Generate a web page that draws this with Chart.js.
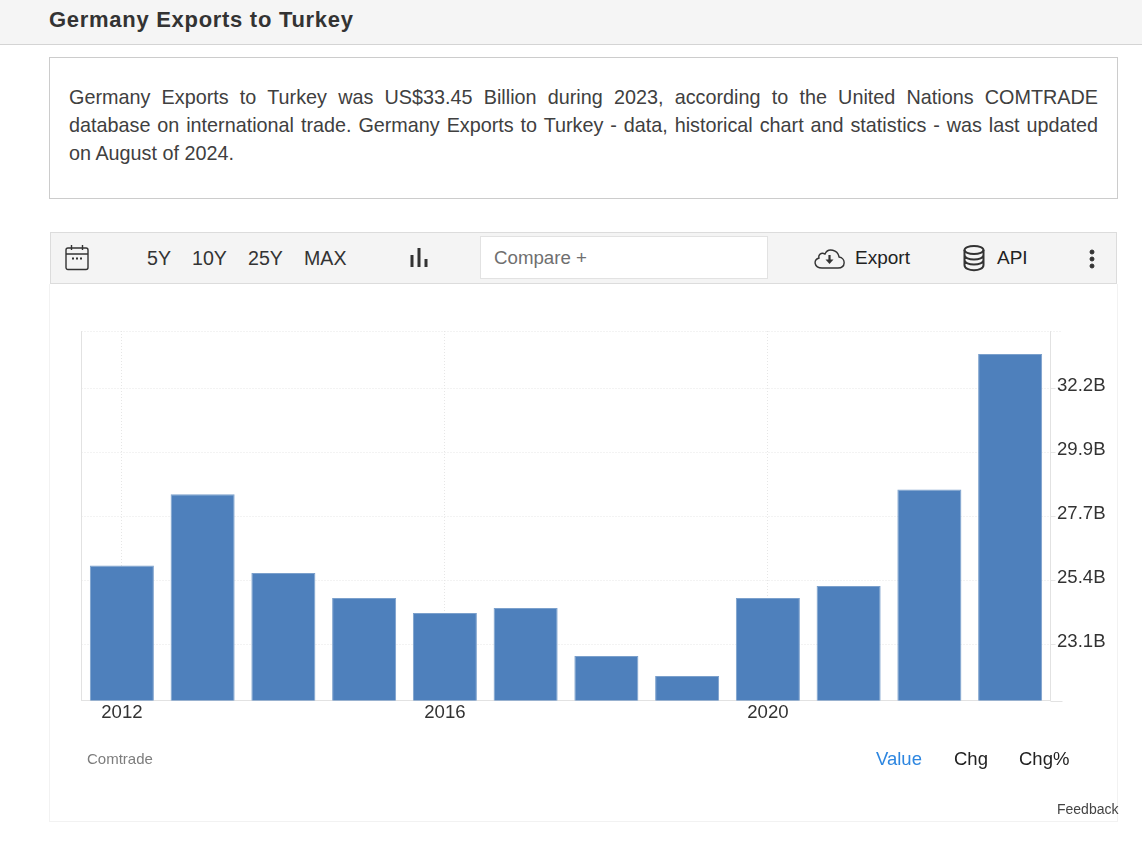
<!DOCTYPE html>
<html><head><meta charset="utf-8">
<script src="https://cdn.jsdelivr.net/npm/chart.js@4"></script>
<style>
*{box-sizing:border-box}
html,body{margin:0;padding:0;background:#fff;width:1142px;height:846px;overflow:hidden;font-family:"Liberation Sans",Arial,sans-serif;color:#333}
.abs{position:absolute;white-space:nowrap}
#head{position:absolute;left:0;top:0;width:1142px;height:45px;background:#f5f5f5;border-bottom:1px solid #d4d4d4}
#title{left:49px;top:7px;font-size:22px;font-weight:bold;line-height:26px;letter-spacing:.71px;color:#333}
#desc{position:absolute;left:49px;top:57px;width:1069px;height:142px;border:1px solid #ccc;padding:25px 19px 0 19px;font-size:19.8px;line-height:28px;color:#404040}
#desc div{white-space:normal;text-align:justify;text-align-last:justify}
#desc div:last-child{text-align-last:left}
#frame{position:absolute;left:49px;top:284px;width:1069px;height:538px;border:1px solid #f2f2f2;border-top:none}
#bar{position:absolute;left:50px;top:232px;width:1067px;height:52px;background:#f4f4f4;border:1px solid #dcdcdc}
#cmp{position:absolute;left:480px;top:236px;width:288px;height:43px;background:#fff;border:1px solid #e2e2e2;font-size:18.7px;line-height:42px;padding-left:13px;color:#6f6f6f}
.tb{font-size:19.6px;line-height:22px;color:#333;top:247px}
svg{position:absolute;fill:none;stroke:#333}
#wrap{position:absolute;left:50px;top:284px;width:1067px;height:538px}
</style></head><body>
<div id="head"></div><div class="abs" id="title">Germany Exports to Turkey</div>
<div id="desc"><div>Germany Exports to Turkey was US$33.45 Billion during 2023, according to the United Nations COMTRADE</div><div>database on international trade. Germany Exports to Turkey - data, historical chart and statistics - was last updated</div><div>on August of 2024.</div></div>
<div id="frame"></div>
<div id="wrap"><canvas id="c"></canvas></div>
<div id="bar"></div>
<svg style="left:65px;top:244px" width="25" height="28" viewBox="0 0 25 28" stroke-width="1.4"><rect x="1" y="4" width="22" height="21.5" rx="2"/><path d="M1 10H23M6.5 1V6M17.5 1V6"/><path d="M7 14.500h2M11 14.500h2M15 14.500h2" stroke-width="2"/></svg>
<div class="abs tb" style="left:147px">5Y</div>
<div class="abs tb" style="left:192px">10Y</div>
<div class="abs tb" style="left:248px">25Y</div>
<div class="abs tb" style="left:304px">MAX</div>
<svg style="left:409px;top:247px" width="20" height="21" viewBox="0 0 20 21" stroke-width="3"><path d="M3 8V20M10 1V20M17 12V20"/></svg>
<div id="cmp">Compare +</div>
<svg style="left:813px;top:245px" width="33" height="26" viewBox="0 0 33 26" stroke-width="1.4"><path d="M9 23H25C33 23 33 13 26 12C25 5 15 2 12 9C8 7 5 10 6 13C0 15 1 23 9 23Z"/><path d="M16.500 10V15" stroke-width="2.200"/><path d="M12.500 14.500H20.500L16.500 19Z" fill="#333" stroke="none"/></svg>
<div class="abs tb" style="left:855px;color:#222;font-size:19px">Export</div>
<svg style="left:962px;top:244px" width="24" height="28" viewBox="0 0 24 28" stroke-width="2"><ellipse cx="12" cy="6" rx="9.500" ry="4"/><path d="M2.500 6V21C2.500 28 21.500 28 21.500 21V6M2.500 11C2.500 17 21.500 17 21.500 11M2.500 16C2.500 22 21.500 22 21.500 16"/></svg>
<div class="abs tb" style="left:997px;color:#222;font-size:19px">API</div>
<svg style="left:1088px;top:249px" width="8" height="20" viewBox="0 0 8 20" stroke="none"><circle cx="4" cy="3" r="2" fill="#333"/><circle cx="4" cy="10" r="2" fill="#333"/><circle cx="4" cy="17" r="2" fill="#333"/></svg>
<div class="abs" style="left:87px;top:750px;font-size:15px;line-height:18px;color:#7d7d7d">Comtrade</div>
<div class="abs" style="left:876px;top:748px;font-size:18.5px;line-height:22px;color:#2d86e0">Value</div>
<div class="abs" style="left:954px;top:748px;font-size:18.5px;line-height:22px;color:#222">Chg</div>
<div class="abs" style="left:1019px;top:748px;font-size:18.5px;line-height:22px;color:#222">Chg%</div>
<div class="abs" style="left:1057px;top:801px;font-size:14px;line-height:17px;color:#444">Feedback</div>
<script>
const categories = ["2012","2013","2014","2015","2016","2017","2018","2019","2020","2021","2022","2023"];
const exportsBillion = [25.95,28.48,25.68,24.79,24.26,24.44,22.73,22.02,24.79,25.22,28.65,33.47];
const xTickLabels = ["2012","2016","2020"];
const yTickValues = [23.13,25.405,27.68,29.955,32.23];
const yTickLabels = ["23.1B","25.4B","27.7B","29.9B","32.2B"];
const yMin = 21.15, yMax = 34.285;
const GRID = "#e6e6e6", AXIS = "#e2e2e2", FONT = '"Liberation Sans",Arial,sans-serif';

new Chart(document.getElementById("c"), {
  type: "bar",
  data: { labels: categories, datasets: [{
    data: exportsBillion, backgroundColor: "#4e80bc", borderColor: "#7ba0cc", borderWidth: 1,
    categoryPercentage: 1, barPercentage: 0.793
  }]},
  options: {
    responsive: true, maintainAspectRatio: false, animation: false,
    layout: { padding: { left: 31.5, top: 47, right: 0, bottom: 0 } },
    plugins: { legend: { display: false }, tooltip: { enabled: false } },
    scales: {
      x: {
        offset: true,
        afterFit(s){ s.height = 121.5; },
        border: { display: true, color: AXIS, width: 1, dash: [1,2] },
        grid: { offset: false, drawTicks: false,
          color: c => xTickLabels.includes(categories[c.index]) ? GRID : "rgba(0,0,0,0)",
          lineWidth: 1 },
        ticks: { autoSkip: false, maxRotation: 0, padding: 1.5, color: "#333",
          font: { family: FONT, size: 18.6 },
          callback(v){ const l = categories[v]; return xTickLabels.includes(l) ? l : ""; } }
      },
      y: {
        position: "right", min: yMin, max: yMax,
        afterFit(s){ s.width = 66.5; },
        afterBuildTicks(s){ s.ticks = yTickValues.map(value => ({ value })); },
        border: { display: true, color: AXIS, width: 1, dash: [1,2] },
        grid: { color: GRID, lineWidth: 1, tickLength: 5, tickColor: GRID },
        ticks: { padding: 1.5, labelOffset: -3, color: "#333", font: { family: FONT, size: 18.6 },
          callback(v){ const i = yTickValues.indexOf(v); return i >= 0 ? yTickLabels[i] : ""; } }
      }
    }
  },
  plugins: [{
    id: "dottedFrame",
    beforeDatasetsDraw(ch){
      const a = ch.chartArea, g = ch.ctx;
      g.save(); g.lineWidth = 1;
      g.strokeStyle = AXIS;
      g.beginPath(); g.moveTo(Math.floor(a.left)+.5, a.top); g.lineTo(Math.floor(a.left)+.5, a.bottom); g.stroke();
      g.setLineDash([1,2]); g.strokeStyle = GRID;
      g.beginPath(); g.moveTo(a.left, Math.round(a.top)+.5); g.lineTo(a.right+12, Math.round(a.top)+.5); g.stroke();
      g.setLineDash([]); g.strokeStyle = AXIS;
      g.beginPath(); g.moveTo(a.right, Math.round(a.bottom)+.5); g.lineTo(a.right+12, Math.round(a.bottom)+.5); g.stroke();
      g.restore();
    }
  }]
});
</script>
</body></html>
